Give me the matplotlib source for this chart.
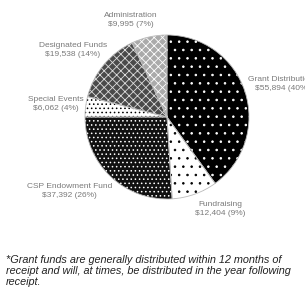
import matplotlib
matplotlib.use("Agg")
import matplotlib.pyplot as plt

# === Data ===
categories = ["Grant Distribution*", "Fundraising", "CSP Endowment Fund",
              "Special Events", "Designated Funds", "Administration"]
amounts = ["$55,894", "$12,404", "$37,392", "$6,062", "$19,538", "$9,995"]
percents = [40, 9, 26, 4, 14, 7]

# === Styles (fill, hatch colour, hatch) ===
faces = ["black", "white", "#111111", "white", "#4a4a4a", "#aaaaaa"]
hatch_cols = ["white", "black", "white", "black", "#dddddd", "white"]
hatches = ["..", "..", "....", "....", "xxxx", "xxxx"]
# label centres, in pie radius units
label_pos = [(1.41, 0.40), (0.65, -1.12), (-1.19, -0.90),
             (-1.35, 0.16), (-1.15, 0.82), (-0.44, 1.18)]

plt.rcParams["font.family"] = ["Liberation Sans", "DejaVu Sans"]
plt.rcParams["hatch.linewidth"] = 0.6

W, H, DPI = 305, 290, 100
fig = plt.figure(figsize=(W / DPI, H / DPI), dpi=DPI)
ax = fig.add_axes([0, 0, 1, 1])

wedges, _ = ax.pie(percents, startangle=90, counterclock=False)
for w, fc, hc, h in zip(wedges, faces, hatch_cols, hatches):
    w.set_facecolor(fc)
    w.set_edgecolor(hc)
    w.set_hatch(h)
    w.set_linewidth(0)

# thin outlines on top
outl, _ = ax.pie(percents, startangle=90, counterclock=False,
                 wedgeprops=dict(fill=False, edgecolor="#bbbbbb", linewidth=0.6))

for c, a, p, (lx, ly) in zip(categories, amounts, percents, label_pos):
    ax.text(lx, ly, f"{c}\n{a} ({p}%)", ha="center", va="center", fontsize=6.0,
            color="#7a7a7a", linespacing=1.35, clip_on=False)

# pie centre ~ (167, 117) px, radius ~ 82 px
cx, cy, r = 167, 117, 82
ax.set_xlim(-cx / r, (W - cx) / r)
ax.set_ylim(-(H - cy) / r, cy / r)
ax.axis("off")

note = ("*Grant funds are generally distributed within 12 months of\n"
        "receipt and will, at times, be distributed in the year following\n"
        "receipt.")
fig.text(6 / W, 1 - 255 / H, note, fontsize=7.8, style="italic", va="top", ha="left",
         linespacing=1.1, color="#222222")

fig.savefig("out.png", dpi=DPI)
